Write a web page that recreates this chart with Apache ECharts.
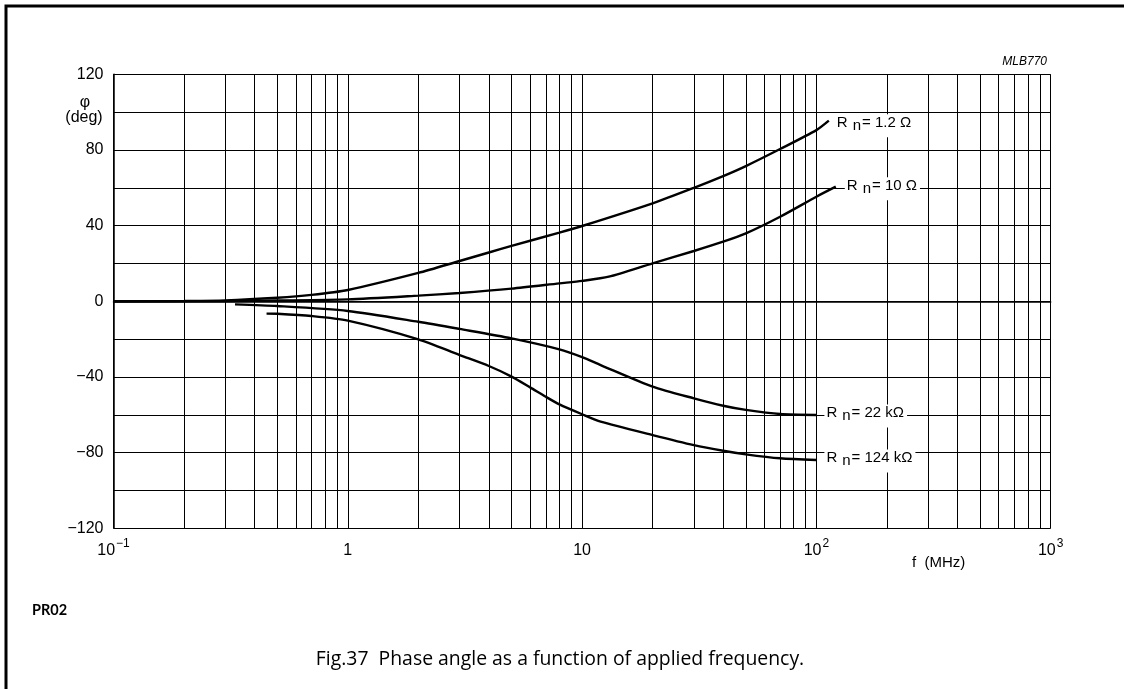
<!DOCTYPE html>
<html>
<head>
<meta charset="utf-8">
<script src="https://cdn.jsdelivr.net/npm/echarts@6/dist/echarts.min.js"></script>
<style>
html,body{margin:0;padding:0;background:#fff;}
#chart{width:1124px;height:689px;}
</style>
</head>
<body>
<div id="chart"></div>
<script>
// Frequency (MHz) and phase angle (deg) per curve
const fR12 = [0.1, 0.2, 0.3, 0.5, 0.7, 1, 2, 3, 4, 5, 8, 10, 20, 30, 40, 50, 70, 100, 113];
const phiR12 = [0, 0.2, 0.5, 1.9, 3.4, 6, 15, 21.3, 25.8, 29.3, 36.3, 39.8, 51.8, 60, 66.2, 71.5, 80.5, 90.5, 95.5];

const fR10 = [0.1, 0.3, 0.5, 1, 2, 3, 5, 8, 10, 13, 20, 30, 40, 50, 70, 100, 121];
const phiR10 = [0, 0.1, 0.4, 1.0, 3.0, 4.4, 6.7, 9.5, 10.8, 13, 20.1, 26.6, 31.5, 35.9, 44.7, 55.3, 60.6];

const fR22k = [0.33, 0.5, 1, 2, 3, 5, 8, 10, 12, 20, 30, 40, 50, 70, 100];
const phiR22k = [-1.6, -2.5, -5.1, -10.8, -14.6, -19.6, -25.4, -29.5, -33.7, -45.1, -51.3, -55.2, -57.4, -59.6, -60.1];

const fR124k = [0.45, 0.5, 0.7, 1, 2, 3, 4, 5, 6, 7, 8, 10, 12, 20, 30, 40, 50, 70, 100];
const phiR124k = [-6.5, -6.6, -7.8, -10.2, -20.1, -28.4, -34.2, -39.8, -45.5, -50.5, -54.5, -59.7, -63.6, -70.7, -76, -79, -80.9, -83, -83.9];

const curveNames = ['1.2 Ω', '10 Ω', '22 kΩ', '124 kΩ'];
const minorFreqs = [0.2,0.3,0.4,0.5,0.6,0.7,0.8,0.9, 2,3,4,5,6,7,8,9, 20,30,40,50,60,70,80,90, 200,300,400,500,600,700,800,900];

const AXFONT = '"Liberation Sans", Arial, Helvetica, sans-serif';

function pairs(f, p){ return f.map((v,i)=>[v,p[i]]); }

const labelRich = {
  a: {fontFamily: AXFONT, fontSize: 15, color:'#000', padding:[0,0,6,0]},
  n: {fontFamily: AXFONT, fontSize: 15, color:'#000', padding:[0,1,0,5]}
};

function mkSeries(f, p, name, lbl){
  return {
    type:'line', name: name, data: pairs(f,p), smooth: 0.25, showSymbol:false, symbol:'none',
    lineStyle:{color:'#000', width:2.4}, z:5,
    endLabel:{show:true, formatter: '{a|R}{n|n}{a|= ' + name + '}', rich: labelRich,
      backgroundColor:'#fff', padding:[1,3,1,2], distance: lbl.d, offset: lbl.o}
  };
}

const chart = echarts.init(document.getElementById('chart'), null, {renderer:'canvas'});
chart.setOption({
  animation:false,
  backgroundColor:'#fff',
  grid:{left:113.5, right:73.3, top:74.3, bottom:160.7},
  xAxis:{
    type:'log', logBase:10, min:0.1, max:1000,
    axisLine:{show:true, lineStyle:{color:'#000', width:1.5}},
    axisTick:{show:false},
    splitLine:{show:true, lineStyle:{color:'#000', width:1}},
    axisLabel:{
      margin:8, color:'#000',
      formatter:function(v){
        const e = Math.round(Math.log10(v));
        if (e === 0) return '{b|1}';
        if (e === 1) return '{b|10}';
        return '{b|10}{s|' + (e<0 ? '−'+Math.abs(e) : e) + '}';
      },
      rich:{
        b:{fontFamily:AXFONT, fontSize:16, color:'#000', padding:[6,0,0,0]},
        s:{fontFamily:AXFONT, fontSize:12, color:'#000', padding:[0,0,8,1]}
      }
    }
  },
  yAxis:{
    type:'value', min:-120, max:120, interval:20,
    axisLine:{show:true, lineStyle:{color:'#000', width:1.5}},
    axisTick:{show:false},
    splitLine:{show:true, lineStyle:{color:'#000', width:1}},
    axisLabel:{
      margin:10, color:'#000', fontFamily:AXFONT, fontSize:16,
      formatter:function(v){ if (v % 40 !== 0) return ''; return v<0 ? '−'+Math.abs(v) : String(v); }
    }
  },
  series:[
    Object.assign(mkSeries(fR12, phiR12, curveNames[0], {d:6, o:[0,5]}), {
      markLine:{silent:true, symbol:['none','none'], label:{show:false}, z:1,
        lineStyle:{color:'#000', width:1, type:'solid'},
        data: minorFreqs.map(v=>({xAxis:v}))}
    }),
    mkSeries(fR10, phiR10, curveNames[1], {d:9, o:[0,2]}),
    mkSeries(fR22k, phiR22k, curveNames[2], {d:8, o:[0,1]}),
    mkSeries(fR124k, phiR124k, curveNames[3], {d:8, o:[0,1]})
  ],
  graphic:[
    {type:'polyline', shape:{points:[[6,689],[6,6],[1124,6]]}, style:{stroke:'#000', lineWidth:3, fill:null}},
    {type:'text', x:85, y:103, style:{text:'φ', font:'16px '+AXFONT, fill:'#000', align:'center', verticalAlign:'middle'}},
    {type:'text', x:84, y:118, style:{text:'(deg)', font:'16px '+AXFONT, fill:'#000', align:'center', verticalAlign:'middle'}},
    {type:'text', x:912, y:563, style:{text:'f  (MHz)', font:'15px '+AXFONT, fill:'#000', align:'left', verticalAlign:'middle'}},
    {type:'text', x:1047, y:62, style:{text:'MLB770', font:'italic 12px '+AXFONT, fill:'#000', align:'right', verticalAlign:'middle'}},
    {type:'text', x:32, y:610, style:{text:'PR02', font:'bold 14.5px Lato, "Open Sans", sans-serif', fill:'#000', align:'left', verticalAlign:'middle'}},
    {type:'text', x:560, y:659, style:{text:'Fig.37  Phase angle as a function of applied frequency.', font:'19.4px "Open Sans", Lato, sans-serif', fill:'#000', align:'center', verticalAlign:'middle'}}
  ]
});
</script>
</body>
</html>
